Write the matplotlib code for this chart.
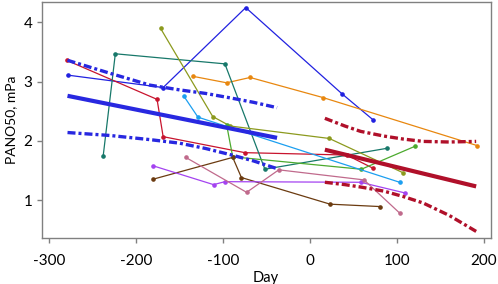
import matplotlib
matplotlib.use("Agg")
import matplotlib.pyplot as plt

plt.rcParams['font.family'] = ['Lato', 'DejaVu Sans']

# Individual subject series (day, PANO50 mPa)
blue_day = [-279, -169, -74, 37, 72]
blue_val = [3.11, 2.90, 4.25, 2.79, 2.36]
orange_day = [-135, -96, -69, 15, 192]
orange_val = [3.09, 2.98, 3.07, 2.73, 1.92]
red_day = [-280, -176, -169, -75, 42, 72]
red_val = [3.36, 2.70, 2.07, 1.80, 1.76, 1.54]
teal_day = [-238, -224, -98, -52, 89]
teal_val = [1.74, 3.47, 3.30, 1.52, 1.875]
olive_day = [-172, -112, -92, 22, 107]
olive_val = [3.90, 2.41, 2.25, 2.04, 1.46]
green_day = [-96, -89, 59, 121]
green_val = [2.27, 1.73, 1.52, 1.91]
lblue_day = [-145, -129, 103]
lblue_val = [2.75, 2.40, 1.30]
brown_day = [-181, -89, -79, 23, 80]
brown_val = [1.35, 1.72, 1.38, 0.93, 0.89]
purple_day = [-181, -111, -98, 58, 109]
purple_val = [1.58, 1.26, 1.31, 1.30, 1.12]
mauve_day = [-143, -73, -36, 62, 103]
mauve_val = [1.72, 1.13, 1.51, 1.34, 0.78]

# Regression fits and confidence bands
pre_fit_day = [-279, -38]
pre_fit_val = [2.76, 2.05]
pre_band_day = [-279, -230, -184, -150, -120, -90, -65, -38]
pre_upper = [3.36, 3.14, 2.94, 2.86, 2.80, 2.72, 2.65, 2.56]
pre_lower = [2.14, 2.09, 2.02, 1.96, 1.87, 1.76, 1.66, 1.53]
post_fit_day = [17, 191]
post_fit_val = [1.85, 1.23]
post_band_day = [17, 40, 58, 85, 107, 130, 160, 191]
post_upper = [2.38, 2.25, 2.16, 2.08, 2.03, 1.99, 1.98, 1.99]
post_lower = [1.30, 1.26, 1.22, 1.15, 1.06, 0.95, 0.74, 0.47]

xticks = [-300, -200, -100, 0, 100, 200]
yticks = [1, 2, 3, 4]

fig = plt.figure(figsize=(4.98, 2.84), dpi=100)
ax = fig.add_axes([0.0837, 0.161, 0.9016, 0.831])

series = [
    (blue_day, blue_val, '#2121e0'),
    (orange_day, orange_val, '#e8870f'),
    (red_day, red_val, '#c8142e'),
    (teal_day, teal_val, '#17786a'),
    (olive_day, olive_val, '#8c9a1e'),
    (green_day, green_val, '#4caa2e'),
    (lblue_day, lblue_val, '#1c9ff0'),
    (brown_day, brown_val, '#6b3b10'),
    (purple_day, purple_val, '#a443f0'),
    (mauve_day, mauve_val, '#c06a8c'),
]
for d, v, c in series:
    ax.plot(d, v, color=c, lw=0.9, marker='o', ms=2.3, zorder=2)

dash = (0, (2.4, 0.9, 0.9, 0.9))
bl = '#2828e0'
rd = '#b0102a'
ax.plot(pre_fit_day, pre_fit_val, color=bl, lw=3.0, solid_capstyle='butt', zorder=3)
ax.plot(pre_band_day, pre_upper, color=bl, lw=2.4, ls=dash, zorder=3)
ax.plot(pre_band_day, pre_lower, color=bl, lw=2.4, ls=dash, zorder=3)
ax.plot(post_fit_day, post_fit_val, color=rd, lw=3.0, solid_capstyle='butt', zorder=3)
ax.plot(post_band_day, post_upper, color=rd, lw=2.4, ls=dash, zorder=3)
ax.plot(post_band_day, post_lower, color=rd, lw=2.4, ls=dash, zorder=3)

ax.set_xlim(-308.7, 207.7)
ax.set_ylim(0.354, 4.34)
ax.set_xticks(xticks)
ax.set_xticklabels([str(t) for t in xticks])
ax.set_yticks(yticks)
for s in ax.spines.values():
    s.set_color('#808080')
    s.set_linewidth(1.0)
ax.tick_params(colors='#808080', labelcolor='black', length=3.5, width=1.0,
               labelsize=11, pad=3)
ax.tick_params(axis='x', pad=8)
ax.set_xlabel('Day', fontsize=10.5, labelpad=2)
ax.set_ylabel('PANO50, mPa', fontsize=10, labelpad=5)

fig.savefig('out.png', dpi=100)
